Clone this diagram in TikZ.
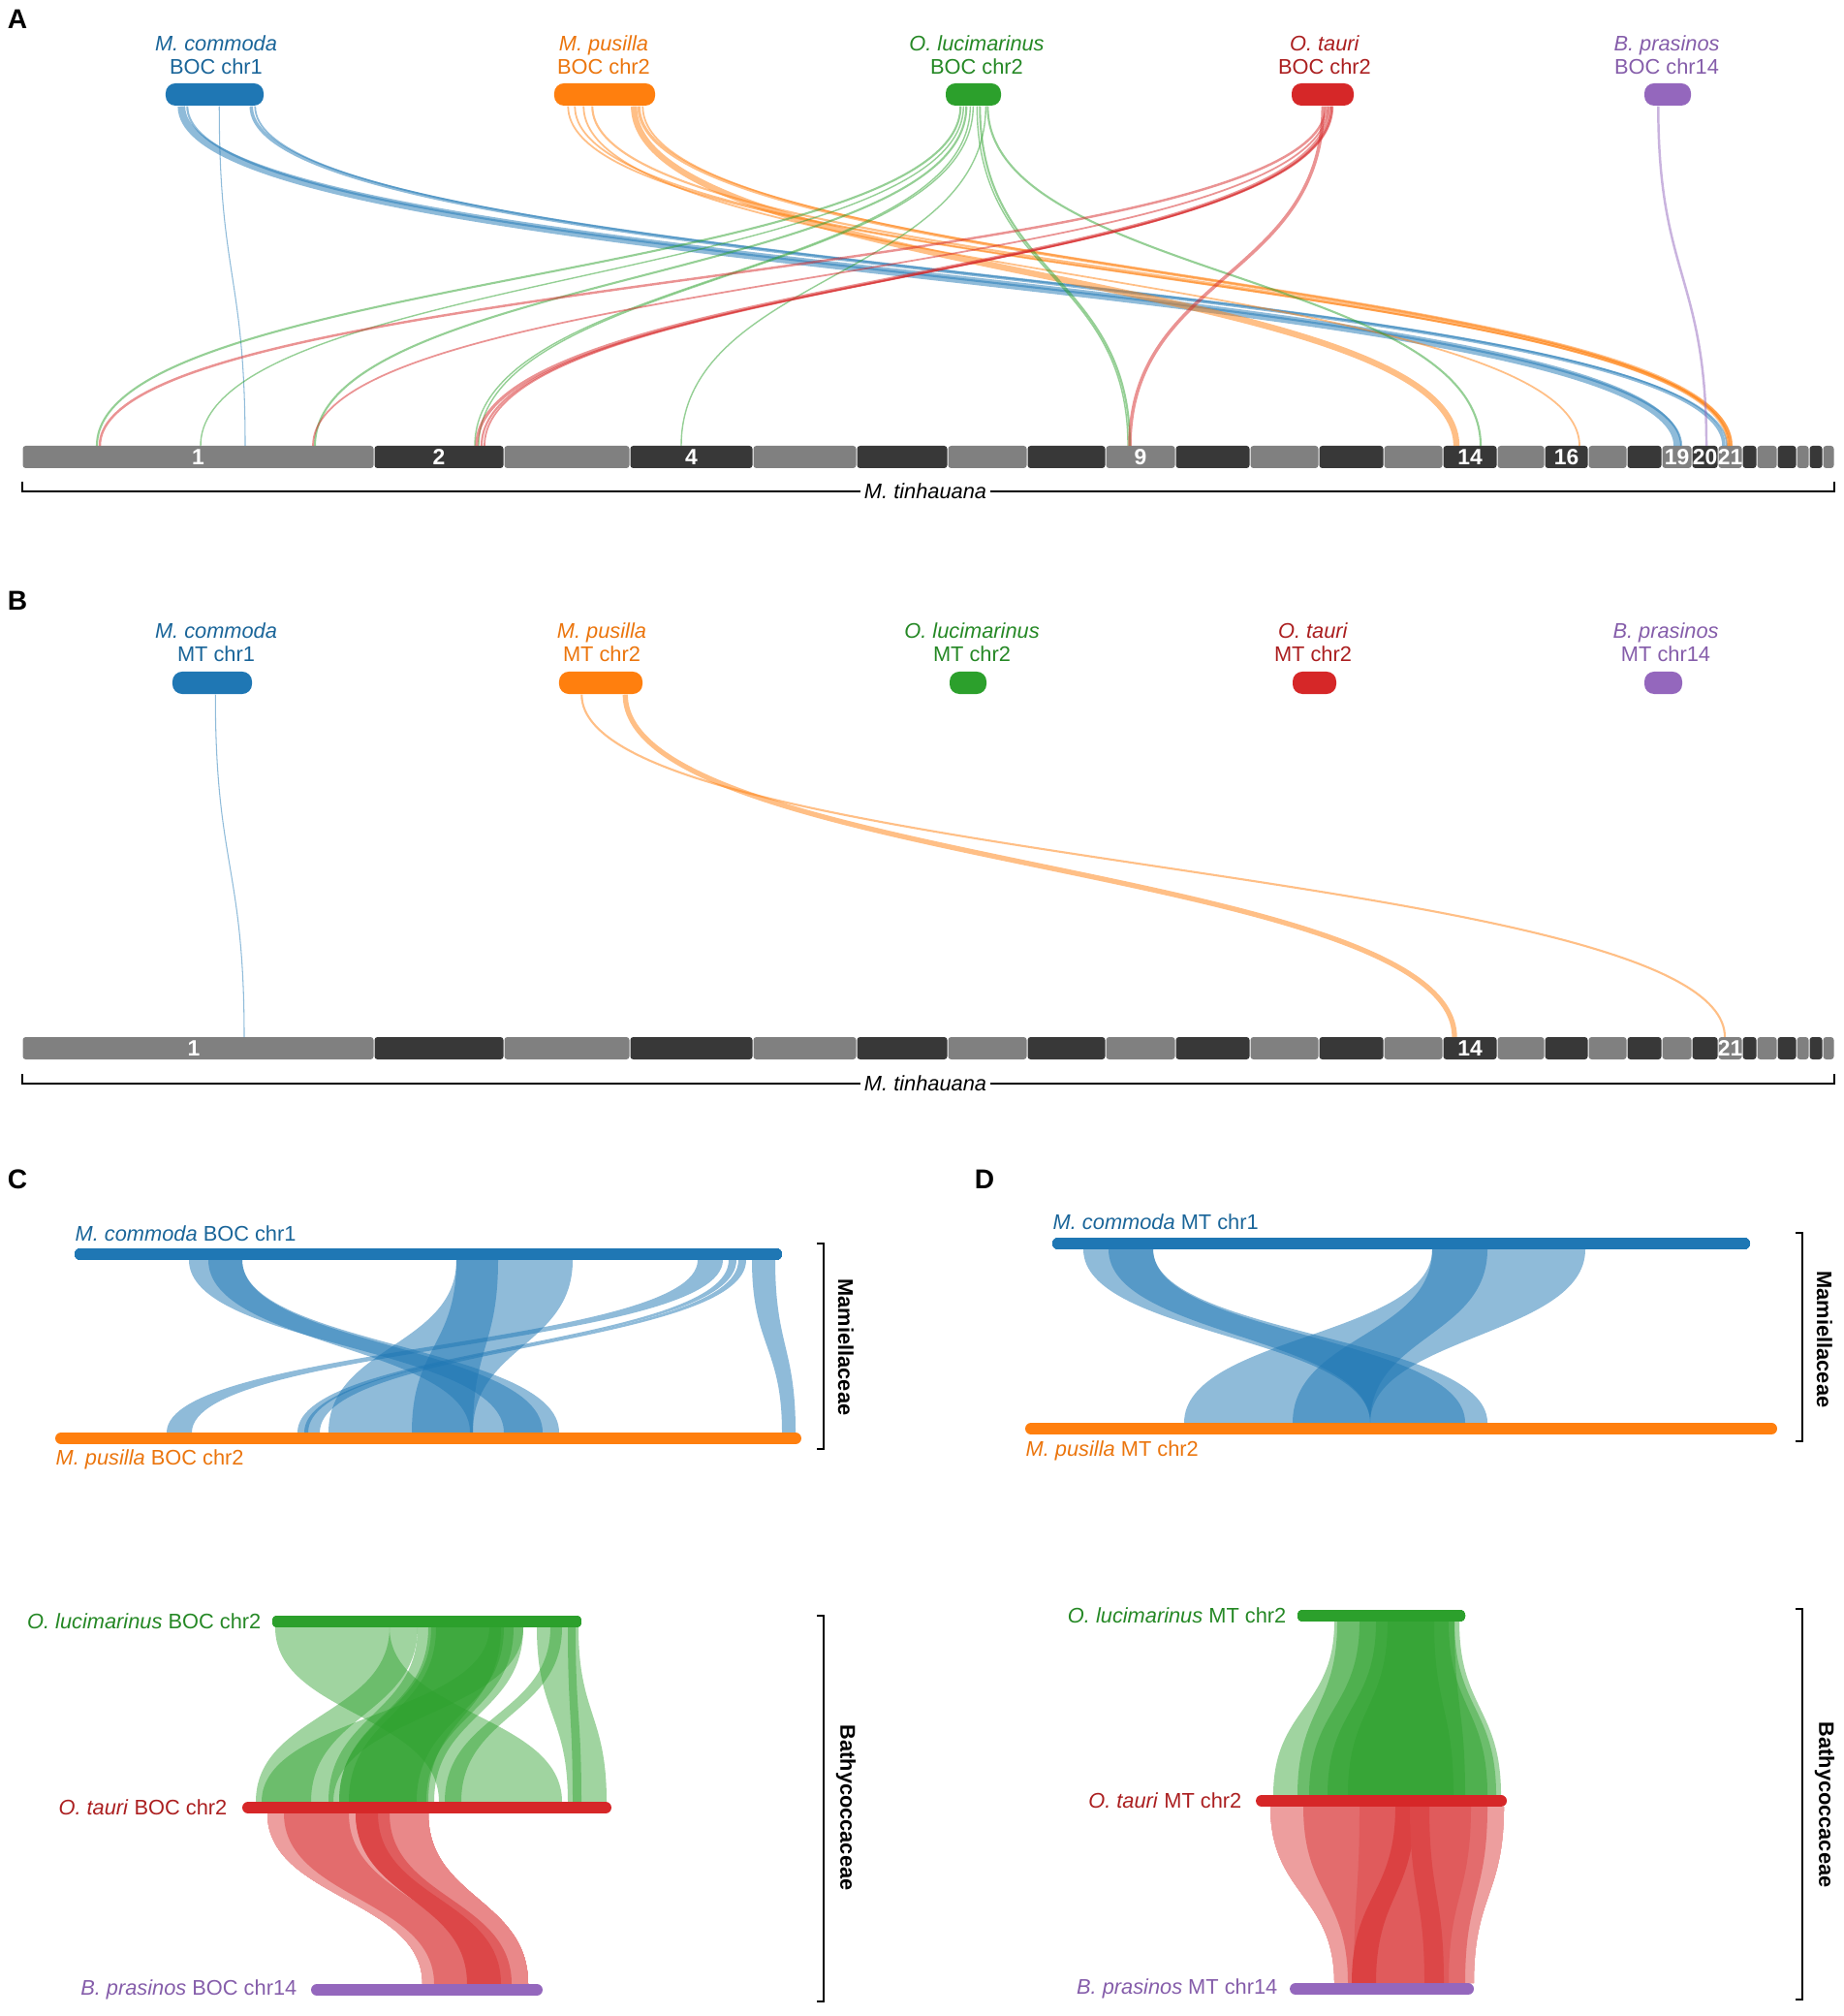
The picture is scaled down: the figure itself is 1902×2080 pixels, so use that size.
\documentclass[tikz,border=0pt]{standalone}
\usepackage{fontspec}
\setmainfont{Liberation Sans}
\usetikzlibrary{calc}

\definecolor{cblue}{HTML}{1F77B4}
\definecolor{corange}{HTML}{FF7F0E}
\definecolor{cgreen}{HTML}{2CA02C}
\definecolor{cred}{HTML}{D62728}
\definecolor{cpurple}{HTML}{9467BD}
\definecolor{chrlight}{HTML}{808080}
\definecolor{chrdark}{HTML}{383838}
\colorlet{tblue}{cblue!85!black}
\colorlet{torange}{corange!92!black}
\colorlet{tgreen}{cgreen!85!black}
\colorlet{tred}{cred!80!black}
\colorlet{tpurple}{cpurple!90!black}

% chromosome segments of M. tinhauana
\newcommand{\chrsegs}{23/386/chrlight, 386/520/chrdark, 520/650/chrlight, 650/777/chrdark,
  777/884/chrlight, 884/978/chrdark, 978/1060/chrlight, 1060/1141/chrdark, 1141/1213/chrlight,
  1213/1290/chrdark, 1290/1361/chrlight, 1361/1428/chrdark, 1428/1489/chrlight, 1489/1545/chrdark,
  1545/1594/chrlight, 1594/1639/chrdark, 1639/1679/chrlight, 1679/1715/chrdark, 1715/1746/chrlight,
  1746/1773/chrdark, 1773/1798/chrlight, 1798/1813/chrdark, 1813/1834/chrlight, 1834/1854/chrdark,
  1854/1867/chrlight, 1867/1881/chrdark, 1881/1893/chrlight}

% ribbon: style, top y, bottom y, top x1, top x2, bottom x1, bottom x2
\newcommand{\rib}[7]{\fill[#1] (#4,#2) -- (#5,#2)
  .. controls (#5,{(#2+#3)/2}) and (#7,{(#2+#3)/2}) .. (#7,#3) -- (#6,#3)
  .. controls (#6,{(#2+#3)/2}) and (#4,{(#2+#3)/2}) .. cycle;}

\begin{document}
\begin{tikzpicture}[x=0.01cm,y=-0.01cm]
	\tikzset{pill/.style = {rectangle, rounded corners=0.1cm, inner sep=0pt, minimum height=0.23cm}}
	\tikzset{synlink/.style = {out=-90, in=90, distance=1.76cm, draw opacity=0.5}}
	\tikzset{lbl/.style = {font=\fontsize{6.2}{6.85}\selectfont, align=center, inner sep=0pt}}
	\tikzset{chrnum/.style = {text=white, font=\bfseries\fontsize{6.5}{7}\selectfont, inner sep=0pt}}
	\tikzset{panel/.style = {font=\bfseries\fontsize{8}{9}\selectfont, inner sep=0pt}}
	\tikzset{fam/.style = {font=\bfseries\fontsize{6.2}{7}\selectfont, rotate=-90, inner sep=0pt}}
	\tikzset{track/.style = {line width=3.4pt, line cap=round}}
	\tikzset{brk/.style = {line width=0.6pt}}
	\useasboundingbox (0,0) rectangle (1902,2080);

	% Panel letters
	\node[panel] (pA) at (18,20) {A};
	\node[panel] (pB) at (18,620) {B};
	\node[panel] (pC) at (18,1217) {C};
	\node[panel] (pD) at (1016,1217) {D};

	% M. tinhauana bars
	\foreach \yt in {460,1070}
		\foreach \a/\b/\c in \chrsegs
			\fill[\c, rounded corners=0.03cm] (\a+0.5,\yt) rectangle (\b-0.5,\yt+23);
	\coordinate (barA) at (23,460);
	\coordinate (barB) at (23,1070);
	\foreach \x/\n in {204.5/1, 453/2, 713.5/4, 1177/9, 1517/14, 1616.5/16, 1730.5/19, 1759.5/20, 1785.5/21}
		\node[chrnum] (nA\n) at (\x,471.5) {\n};
	\foreach \x/\n in {200/1, 1517/14, 1785.5/21}
		\node[chrnum] (nB\n) at (\x,1081.5) {\n};
	\draw[brk] (23,497) -- (23,507) -- (1893,507) -- (1893,497);
	\draw[brk] (23,1108) -- (23,1118) -- (1893,1118) -- (1893,1108);
	\node[lbl, fill=white, inner xsep=1pt] (tinA) at (955,507) {\textit{M. tinhauana}};
	\node[lbl, fill=white, inner xsep=1pt] (tinB) at (955,1118) {\textit{M. tinhauana}};

	% Panel A: BOC chromosomes
	\node[pill, fill=cblue, minimum width=1.01cm] (mcA) at (221.5,97.5) {};
	\node[pill, fill=corange, minimum width=1.04cm] (mpA) at (624,97.5) {};
	\node[pill, fill=cgreen, minimum width=0.57cm] (olA) at (1004.5,97.5) {};
	\node[pill, fill=cred, minimum width=0.64cm] (otA) at (1365,97.5) {};
	\node[pill, fill=cpurple, minimum width=0.48cm] (bpA) at (1721,97.5) {};
	\node[lbl, text=tblue] (mcAl) at (223,57) {\textit{M. commoda}\\BOC chr1};
	\node[lbl, text=torange] (mpAl) at (623,57) {\textit{M. pusilla}\\BOC chr2};
	\node[lbl, text=tgreen] (olAl) at (1008,57) {\textit{O. lucimarinus}\\BOC chr2};
	\node[lbl, text=tred] (otAl) at (1367,57) {\textit{O. tauri}\\BOC chr2};
	\node[lbl, text=tpurple] (bpAl) at (1720,57) {\textit{B. prasinos}\\BOC chr14};
	\foreach \p/\s/\e/\w/\c in {
		mcA/17/1708/2.2/cblue, mcA/23/1712/0.6/cblue, mcA/56/230/0.3/cblue,
		mcA/89/1756/1.0/cblue, mcA/93/1759/0.5/cblue,
		mpA/15/1762/0.5/corange, mpA/22/1760/0.5/corange, mpA/31/1607/0.5/corange,
		mpA/40/1764/0.6/corange, mpA/83/1480/1.8/corange, mpA/88/1763/0.9/corange,
		mpA/92/1761/0.5/corange,
		olA/16/77/0.6/cgreen, olA/19/184/0.4/cgreen, olA/22/302/0.6/cgreen,
		olA/26/467/0.4/cgreen, olA/29/471/0.4/cgreen, olA/33/1141/0.4/cgreen,
		olA/36/1143/0.6/cgreen, olA/42/680/0.4/cgreen, olA/44/1505/0.6/cgreen,
		otA/36/80/0.7/cred, otA/38/300/0.5/cred, otA/40/469/0.9/cred,
		otA/42/474/0.6/cred, otA/43/477/0.5/cred, otA/33/1143/1.0/cred,
		bpA/15/1738/0.7/cpurple}
		\draw[synlink, \c, line width=\w pt] ($(\p.south west)+(\s,0)$) to ($(barA)+(\e,0)$);

	% Panel B: MT chromosomes
	\node[pill, fill=cblue, minimum width=0.82cm] (mcB) at (219,704.5) {};
	\node[pill, fill=corange, minimum width=0.86cm] (mpB) at (620,704.5) {};
	\node[pill, fill=cgreen, minimum width=0.38cm] (olB) at (999,704.5) {};
	\node[pill, fill=cred, minimum width=0.45cm] (otB) at (1356.5,704.5) {};
	\node[pill, fill=cpurple, minimum width=0.39cm] (bpB) at (1716.5,704.5) {};
	\node[lbl, text=tblue] (mcBl) at (223,663) {\textit{M. commoda}\\MT chr1};
	\node[lbl, text=torange] (mpBl) at (621,663) {\textit{M. pusilla}\\MT chr2};
	\node[lbl, text=tgreen] (olBl) at (1003,663) {\textit{O. lucimarinus}\\MT chr2};
	\node[lbl, text=tred] (otBl) at (1355,663) {\textit{O. tauri}\\MT chr2};
	\node[lbl, text=tpurple] (bpBl) at (1719,663) {\textit{B. prasinos}\\MT chr14};
	\foreach \p/\s/\e/\w/\c in {mcB/45/229/0.3/cblue, mpB/24/1757/0.6/corange, mpB/69/1478/1.5/corange}
		\draw[synlink, \c, line width=\w pt] ($(\p.south west)+(\s,0)$) to ($(barB)+(\e,0)$);

	% Panel C: Mamiellaceae BOC
	\foreach \a/\b/\c/\d in {195/250/520/577, 215/250/485/560, 471/591/339/488, 471/514/425/488,
		720/746/172/198, 752/760/307/318, 762/770/314/330, 776/800/807/821}
		\rib{cblue, fill opacity=0.5}{1300}{1478}{\a}{\b}{\c}{\d}
	\draw[track, cblue] (83,1294) -- (801,1294);
	\draw[track, corange] (63,1484) -- (821,1484);
	\node[lbl, text=tblue, anchor=west] (mcC) at (77,1273) {\textit{M. commoda} BOC chr1};
	\node[lbl, text=torange, anchor=west] (mpC) at (57,1506) {\textit{M. pusilla} BOC chr2};
	\draw[brk] (843,1283) -- (850,1283) -- (850,1495) -- (843,1495);
	\node[fam] (famC1) at (873,1390) {Mamiellaceae};

	% Panel C: Bathycoccaceae BOC
	\foreach \a/\b/\c/\d in {284/402/453/580, 402/431/264/321, 431/540/339/448, 445/530/350/440,
		450/520/360/430, 442/517/350/442, 505/540/270/344, 554/597/586/626, 568/580/459/476,
		586/594/591/600}
		\rib{cgreen, fill opacity=0.45}{1679}{1859}{\a}{\b}{\c}{\d}
	\foreach \a/\b/\c/\d/\k in {276/367/436/499/45, 390/442/499/545/55, 293/360/448/488/68,
		379/402/488/528/75, 367/390/482/517/85}
		\rib{cred!\k}{1871}{2047}{\a}{\b}{\c}{\d}
	\draw[track, cgreen] (287,1673) -- (594,1673);
	\draw[track, cred] (256,1865) -- (625,1865);
	\draw[track, cpurple] (327,2053) -- (554,2053);
	\node[lbl, text=tgreen, anchor=east] (olC) at (270,1673) {\textit{O. lucimarinus} BOC chr2};
	\node[lbl, text=tred, anchor=east] (otC) at (235,1865) {\textit{O. tauri} BOC chr2};
	\node[lbl, text=tpurple, anchor=east] (bpC) at (307,2053) {\textit{B. prasinos} BOC chr14};
	\draw[brk] (843,1667) -- (850,1667) -- (850,2065) -- (843,2065);
	\node[fam] (famC2) at (873,1865) {Bathycoccaceae};

	% Panel D: Mamiellaceae MT
	\foreach \a/\b/\c/\d in {1118/1190/1414/1535, 1144/1190/1414/1512, 1478/1636/1222/1414,
		1478/1535/1334/1414}
		\rib{cblue, fill opacity=0.5}{1289}{1468}{\a}{\b}{\c}{\d}
	\draw[track, cblue] (1092,1283) -- (1800,1283);
	\draw[track, corange] (1064,1474) -- (1828,1474);
	\node[lbl, text=tblue, anchor=west] (mcD) at (1086,1261) {\textit{M. commoda} MT chr1};
	\node[lbl, text=torange, anchor=west] (mpD) at (1058,1497) {\textit{M. pusilla} MT chr2};
	\draw[brk] (1853,1272) -- (1860,1272) -- (1860,1487) -- (1853,1487);
	\node[fam] (famD1) at (1883,1382) {Mamiellaceae};

	% Panel D: Bathycoccaceae MT
	\foreach \a/\b/\c/\d in {1377/1506/1314/1549, 1380/1501/1339/1544, 1403/1495/1351/1535,
		1432/1501/1391/1512, 1420/1480/1370/1500}
		\rib{cgreen, fill opacity=0.45}{1673}{1852}{\a}{\b}{\c}{\d}
	\foreach \a/\b/\c/\d/\k in {1311/1552/1377/1521/45, 1345/1535/1391/1512/68,
		1403/1518/1397/1495/76, 1440/1460/1395/1420/88, 1455/1475/1470/1490/85}
		\rib{cred!\k}{1864}{2046}{\a}{\b}{\c}{\d}
	\draw[track, cgreen] (1345,1667) -- (1506,1667);
	\draw[track, cred] (1302,1858) -- (1549,1858);
	\draw[track, cpurple] (1337,2052) -- (1515,2052);
	\node[lbl, text=tgreen, anchor=east] (olD) at (1328,1667) {\textit{O. lucimarinus} MT chr2};
	\node[lbl, text=tred, anchor=east] (otD) at (1282,1858) {\textit{O. tauri} MT chr2};
	\node[lbl, text=tpurple, anchor=east] (bpD) at (1319,2052) {\textit{B. prasinos} MT chr14};
	\draw[brk] (1853,1660) -- (1860,1660) -- (1860,2063) -- (1853,2063);
	\node[fam] (famD2) at (1883,1862) {Bathycoccaceae};
\end{tikzpicture}
\end{document}
